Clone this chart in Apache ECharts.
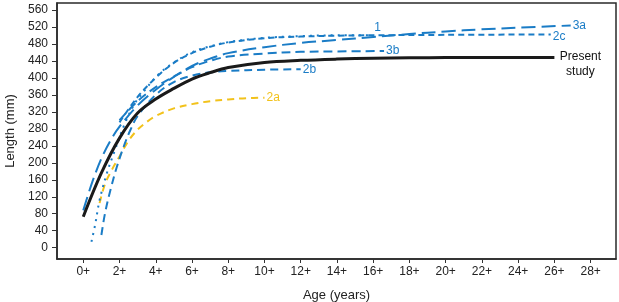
<!DOCTYPE html>
<html>
<head>
<meta charset="utf-8">
<script src="https://cdn.jsdelivr.net/npm/echarts@6/dist/echarts.min.js"></script>
<style>
  html, body { margin: 0; padding: 0; background: #fff; }
  #chart { width: 619px; height: 302px; }
</style>
</head>
<body>
<div id="chart"></div>
<script>
  // tick values
  const ageTicks = [0, 2, 4, 6, 8, 10, 12, 14, 16, 18, 20, 22, 24, 26, 28];
  const lenTicks = [0, 40, 80, 120, 160, 200, 240, 280, 320, 360, 400, 440, 480, 520, 560];

  // growth curves (age in years, length in mm)
  const presentAge = [0, 1, 2, 3, 4, 5, 6, 7, 8, 10, 12, 14, 16, 18, 20, 22, 24, 26];
  const presentLen = [73, 176, 258, 317, 350, 375, 397, 412, 424, 436, 441, 444, 446, 447, 448, 448, 448, 448];

  const age1 = [0.45, 0.65, 0.9, 1.3, 1.75, 2.3, 2.85, 3.4, 4.1, 5, 6, 7, 8, 10, 12, 14, 16];
  const len1 = [14, 53, 112, 175, 230, 293, 340, 371, 406, 436, 460, 474, 484, 494, 498, 500, 500];

  const age2a = [0.9, 1.2, 1.6, 2, 2.5, 3, 3.5, 4, 5, 6, 7, 8, 9, 10];
  const len2a = [105, 150, 185, 215, 252, 278, 296, 310, 328, 338, 345, 349, 352, 353];

  const age2b = [1, 1.2, 1.5, 1.85, 2.3, 2.6, 3, 4, 5, 6, 7, 8, 10, 12];
  const len2b = [30, 81, 136, 190, 246, 277, 310, 360, 390, 405, 413, 416, 419, 420];

  const age2c = [2, 3, 4, 5, 6, 7, 8, 10, 12, 14, 16, 20, 25.8];
  const len2c = [295, 355, 400, 435, 458, 473, 483, 493, 497, 499, 500, 501, 502];

  const age3a = [0, 0.5, 1, 1.5, 2, 3, 4, 5, 6, 7, 8, 10, 12, 14, 16, 18, 20, 22, 24, 26.9];
  const len3a = [88, 155, 210, 252, 285, 335, 372, 402, 428, 445, 458, 472, 482, 489, 496, 503, 509, 514, 518, 523];

  const age3b = [2, 3, 4, 5, 6, 7, 8, 10, 12, 14, 16.6];
  const len3b = [300, 345, 378, 403, 425, 440, 450, 457, 461, 462, 463];

  const blue = '#1a7cc6';
  const yellow = '#f2c21b';
  const font = 'Liberation Sans, Arial, sans-serif';

  function pairs(xs, ys) {
    return xs.map((x, i) => [x, ys[i]]);
  }

  function curve(name, xs, ys, color, dash, width, label, offset) {
    return {
      name: name,
      type: 'line',
      smooth: 0.35,
      symbol: 'none',
      silent: true,
      data: pairs(xs, ys),
      lineStyle: { color: color, width: width, type: dash, cap: 'butt' },
      endLabel: {
        show: true,
        formatter: label,
        color: color,
        fontFamily: font,
        fontSize: 12,
        distance: 2,
        offset: offset
      },
      z: 2
    };
  }

  let chart = echarts.init(document.getElementById('chart'));
  let option = {
    animation: false,
    grid: {
      left: 57, right: 3, top: 3, bottom: 43,
      outerBoundsMode: 'none',
      show: true,
      borderColor: '#2a2a2a',
      borderWidth: 1.5
    },
    xAxis: {
      type: 'value',
      min: -1.45,
      max: 29.4,
      name: 'Age (years)',
      nameLocation: 'middle',
      nameGap: 30,
      nameTextStyle: { fontFamily: font, fontSize: 13, color: '#222' },
      splitLine: { show: false },
      axisLine: { onZero: false, lineStyle: { color: '#2a2a2a', width: 1.5 } },
      axisTick: { show: true, length: 4, customValues: ageTicks, lineStyle: { color: '#333' } },
      axisLabel: {
        customValues: ageTicks,
        formatter: v => v + '+',
        fontFamily: font, fontSize: 12, color: '#222', margin: 7
      }
    },
    yAxis: {
      type: 'value',
      min: -26.5,
      max: 576,
      name: 'Length (mm)',
      nameLocation: 'middle',
      nameGap: 38,
      nameTextStyle: { fontFamily: font, fontSize: 13, color: '#222' },
      splitLine: { show: false },
      axisLine: { show: true, onZero: false, lineStyle: { color: '#2a2a2a', width: 1.5 } },
      axisTick: { show: true, length: 5, customValues: lenTicks, lineStyle: { color: '#333' } },
      axisLabel: {
        customValues: lenTicks,
        fontFamily: font, fontSize: 12, color: '#222', margin: 9
      }
    },
    series: [
      curve('2a', age2a, len2a, yellow, [7, 5], 2, '2a', [0, 0]),
      curve('2b', age2b, len2b, blue, [8, 5], 2, '2b', [0, 0]),
      curve('3b', age3b, len3b, blue, [9, 5], 2, '3b', [0, 0]),
      curve('2c', age2c, len2c, blue, [6, 4], 2, '2c', [0, 2]),
      curve('3a', age3a, len3a, blue, [14, 6], 2, '3a', [0, 0]),
      curve('1', age1, len1, blue, [2, 5], 2, '1', [-1, -8]),
      {
        name: 'Present study',
        type: 'line',
        smooth: 0.35,
        symbol: 'none',
        silent: true,
        data: pairs(presentAge, presentLen),
        lineStyle: { color: '#1a1a1a', width: 3 },
        endLabel: {
          show: true,
          formatter: 'Present\nstudy',
          color: '#111',
          fontFamily: font,
          fontSize: 12,
          lineHeight: 15,
          align: 'center',
          distance: 2,
          offset: [24, 7]
        },
        z: 3
      }
    ]
  };
  chart.setOption(option);
</script>
</body>
</html>
